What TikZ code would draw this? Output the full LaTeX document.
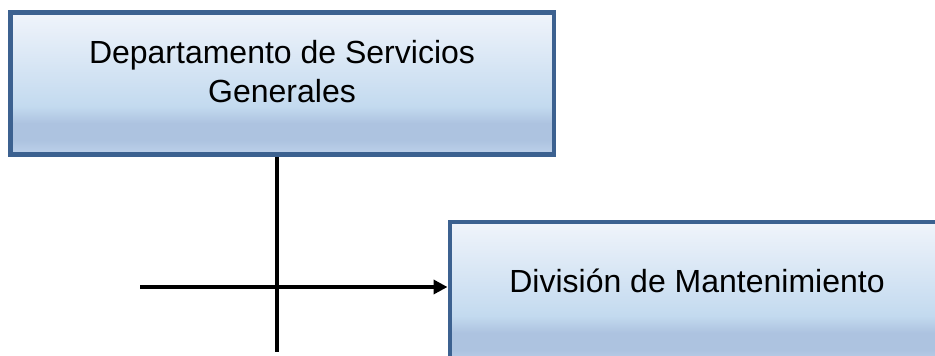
\documentclass[tikz,border=0pt]{standalone}
\usepackage{fontspec}
\setmainfont{Liberation Sans}
\usetikzlibrary{arrows.meta}
\definecolor{boxborder}{HTML}{3C6190}
\definecolor{gtop}{HTML}{F0F4FB}
\definecolor{gmid}{HTML}{C3DAEF}
\definecolor{gband}{HTML}{ADC3E0}
\definecolor{gbot}{HTML}{BED2EB}
\pgfdeclareverticalshading{boxgrad}{100bp}{%
  color(0bp)=(gbot); color(25bp)=(gbot); color(30bp)=(gband); color(36bp)=(gband);
  color(42bp)=(gmid); color(75bp)=(gtop); color(100bp)=(gtop)}
\tikzset{
  orgbox/.style={draw=boxborder, line width=4.5pt, shading=boxgrad, rectangle,
    minimum width=543.5pt, minimum height=142pt, inner sep=0pt},
  boxtext/.style={font=\fontsize{32}{39}\selectfont, text=black, anchor=base, inner sep=0pt},
  conn/.style={line width=4pt, black},
  arrowconn/.style={conn, -{Triangle[length=14pt,width=14pt]}}
}
\begin{document}
\begin{tikzpicture}[x=1pt,y=-1pt]
\fill[white] (0,0) rectangle (935,356);
\useasboundingbox (0,0) rectangle (935,356);
\clip (0,0) rectangle (935,356);
\node[orgbox] (box1) at (282.25,83.5) {};
\node[orgbox] (box2) at (721.5,293) {};
\node[boxtext] (t1a) at (282,63) {Departamento de Servicios};
\node[boxtext] (t1b) at (282,102) {Generales};
\node[boxtext] (t2) at (697,292) {División de Mantenimiento};
\coordinate (vbot) at (277,352);
\coordinate (hstart) at (140,287);
\draw[conn] (vbot |- box1.south) -- (vbot);
\draw[arrowconn] (hstart) -- (hstart -| box2.west);
\end{tikzpicture}
\end{document}
